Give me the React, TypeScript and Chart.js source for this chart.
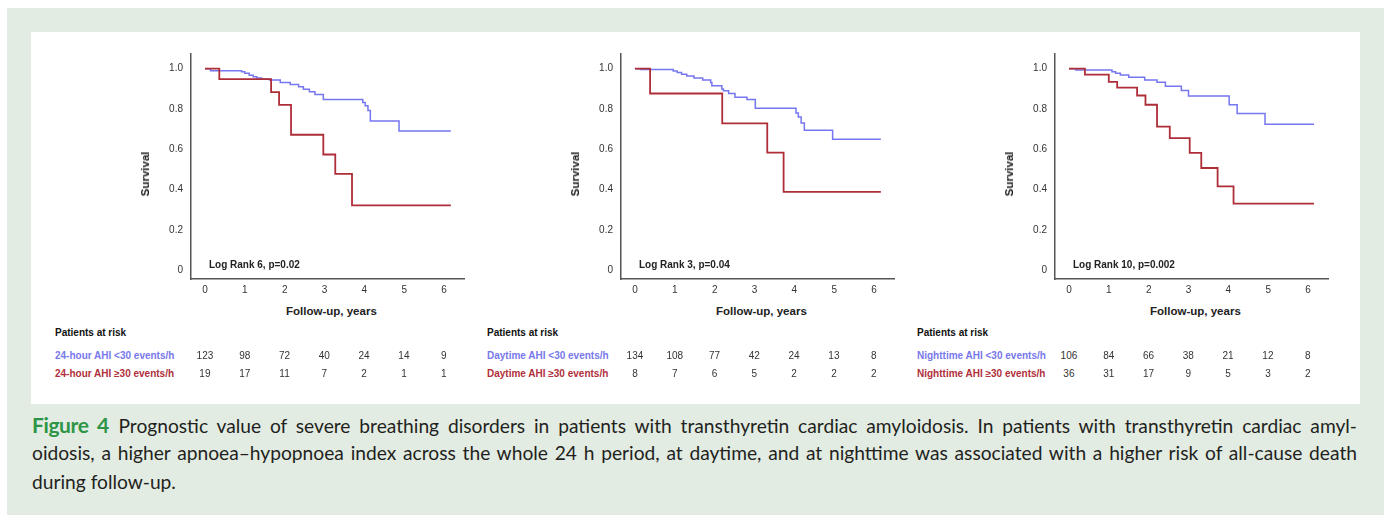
import React, { useEffect, useRef } from "react";
import { Chart, registerables } from "chart.js";

Chart.register(...registerables);

// ---------- shared axis data ----------
const X_TICKS = [0, 1, 2, 3, 4, 5, 6];
const Y_TICKS = [0, 0.2, 0.4, 0.6, 0.8, 1.0];
const Y_TICK_LABELS = ["0", "0.2", "0.4", "0.6", "0.8", "1.0"];
const X_TITLE = "Follow-up, years";
const Y_TITLE = "Survival";
const RISK_TITLE = "Patients at risk";

// ---------- panel 1: 24-hour AHI ----------
const h24LowLabel = "24-hour AHI <30 events/h";
const h24HighLabel = "24-hour AHI \u226530 events/h";
const h24LogRank = "Log Rank 6, p=0.02";
const h24LowTimes = [0, 0.14, 0.92, 1.0, 1.11, 1.21, 1.3, 1.42, 1.62, 1.89, 2.14, 2.35, 2.47, 2.62, 2.76, 2.97, 3.96, 4.02, 4.09, 4.15, 4.87, 6.17];
const h24LowSurv = [1.0, 0.99, 0.985, 0.977, 0.968, 0.96, 0.954, 0.949, 0.944, 0.932, 0.922, 0.911, 0.898, 0.886, 0.872, 0.847, 0.832, 0.816, 0.793, 0.74, 0.691, 0.691];
const h24HighTimes = [0, 0.36, 1.66, 1.86, 2.16, 2.97, 3.27, 3.69, 6.17];
const h24HighSurv = [1.0, 0.948, 0.884, 0.82, 0.672, 0.574, 0.478, 0.322, 0.322];
const h24LowRisk = [123, 98, 72, 40, 24, 14, 9];
const h24HighRisk = [19, 17, 11, 7, 2, 1, 1];

// ---------- panel 2: Daytime AHI ----------
const dayLowLabel = "Daytime AHI <30 events/h";
const dayHighLabel = "Daytime AHI \u226530 events/h";
const dayLogRank = "Log Rank 3, p=0.04";
const dayLowTimes = [0, 0.14, 0.96, 1.06, 1.17, 1.3, 1.48, 1.7, 1.9, 1.93, 2.18, 2.22, 2.35, 2.51, 2.81, 3.02, 4.04, 4.1, 4.17, 4.25, 4.96, 6.17];
const dayLowSurv = [1.0, 0.996, 0.988, 0.981, 0.973, 0.964, 0.954, 0.944, 0.931, 0.915, 0.899, 0.89, 0.877, 0.858, 0.847, 0.804, 0.78, 0.76, 0.73, 0.695, 0.65, 0.65];
const dayHighTimes = [0, 0.38, 2.19, 3.32, 3.73, 6.17];
const dayHighSurv = [1.0, 0.877, 0.729, 0.583, 0.389, 0.389];
const dayLowRisk = [134, 108, 77, 42, 24, 13, 8];
const dayHighRisk = [8, 7, 6, 5, 2, 2, 2];

// ---------- panel 3: Nighttime AHI ----------
const nightLowLabel = "Nighttime AHI <30 events/h";
const nightHighLabel = "Nighttime AHI \u226530 events/h";
const nightLogRank = "Log Rank 10, p=0.002";
const nightLowTimes = [0, 0.17, 1.08, 1.17, 1.29, 1.5, 1.9, 2.21, 2.42, 2.82, 3.0, 4.02, 4.22, 4.92, 6.15];
const nightLowSurv = [1.0, 0.993, 0.985, 0.978, 0.969, 0.957, 0.944, 0.933, 0.913, 0.892, 0.865, 0.821, 0.777, 0.724, 0.724];
const nightHighTimes = [0, 0.4, 1.0, 1.21, 1.71, 1.92, 2.21, 2.53, 3.03, 3.32, 3.73, 4.13, 6.15];
const nightHighSurv = [1.0, 0.971, 0.935, 0.906, 0.867, 0.821, 0.712, 0.655, 0.582, 0.507, 0.416, 0.33, 0.33];
const nightLowRisk = [106, 84, 66, 38, 21, 12, 8];
const nightHighRisk = [36, 31, 17, 9, 5, 3, 2];

// ---------- caption ----------
const CAPTION_LABEL = "Figure 4";
const CAPTION_LINE1 = "Prognostic value of severe breathing disorders in patients with transthyretin cardiac amyloidosis. In patients with transthyretin cardiac amyl-";
const CAPTION_LINE2 = "oidosis, a higher apnoea\u2013hypopnoea index across the whole 24 h period, at daytime, and at nighttime was associated with a higher risk of all-cause death";
const CAPTION_LINE3 = "during follow-up.";

// ---------- styling / layout ----------
const FONT = "'Liberation Sans', Arial, Helvetica, sans-serif";
const CAPTION_FONT = "Lato, 'Open Sans', sans-serif";
const BLUE = "#7676f0";
const RED = "#ae2e38";
const BLUE_TEXT = "#7878ea";
const RED_TEXT = "#b0303c";
const GREEN_BG = "#e2ece3";
const X_MIN = -0.35;
const X_MAX = 6.5;
const Y_MIN = -0.044;
const Y_MAX = 1.073;
const PX_PER_YEAR = 39.8;

const CANVAS_W = 330;
const CANVAS_H = 262;
const Y_SCALE_W = 45;
const PAD_TOP = 10;
const PAD_RIGHT = 12;
const X_SCALE_H = 23;
const CANVAS_TOP = 40;

type Panel = {
  axisX: number;
  tableLeft: number;
  lowTimes: number[];
  lowSurv: number[];
  highTimes: number[];
  highSurv: number[];
  lowRisk: number[];
  highRisk: number[];
  lowLabel: string;
  highLabel: string;
  logRank: string;
};

const PANELS: Panel[] = [
  { axisX: 191, tableLeft: 55, lowTimes: h24LowTimes, lowSurv: h24LowSurv, highTimes: h24HighTimes, highSurv: h24HighSurv, lowRisk: h24LowRisk, highRisk: h24HighRisk, lowLabel: h24LowLabel, highLabel: h24HighLabel, logRank: h24LogRank },
  { axisX: 621, tableLeft: 487, lowTimes: dayLowTimes, lowSurv: dayLowSurv, highTimes: dayHighTimes, highSurv: dayHighSurv, lowRisk: dayLowRisk, highRisk: dayHighRisk, lowLabel: dayLowLabel, highLabel: dayHighLabel, logRank: dayLogRank },
  { axisX: 1055, tableLeft: 917, lowTimes: nightLowTimes, lowSurv: nightLowSurv, highTimes: nightHighTimes, highSurv: nightHighSurv, lowRisk: nightLowRisk, highRisk: nightHighRisk, lowLabel: nightLowLabel, highLabel: nightHighLabel, logRank: nightLogRank },
];

const toPoints = (t: number[], s: number[]) => t.map((x, i) => ({ x, y: s[i] }));

function KmChart({ p }: { p: Panel }) {
  const ref = useRef<HTMLCanvasElement | null>(null);
  useEffect(() => {
    if (!ref.current) return;
    const chart = new Chart(ref.current, {
      type: "line",
      data: {
        datasets: [
          {
            data: toPoints(p.highTimes, p.highSurv),
            borderColor: RED,
            borderWidth: 1.8,
            pointRadius: 0,
            stepped: true,
            fill: false,
          },
          {
            data: toPoints(p.lowTimes, p.lowSurv),
            borderColor: BLUE,
            borderWidth: 1.5,
            pointRadius: 0,
            stepped: true,
            fill: false,
          },
        ],
      },
      options: {
        animation: false,
        responsive: false,
        maintainAspectRatio: false,
        events: [],
        layout: { padding: { top: PAD_TOP, right: PAD_RIGHT, left: 0, bottom: 0 } },
        plugins: { legend: { display: false }, tooltip: { enabled: false }, title: { display: false } },
        scales: {
          x: {
            type: "linear",
            min: X_MIN,
            max: X_MAX,
            grid: { display: false, drawTicks: false },
            border: { display: true, color: "#555", width: 1.5 },
            ticks: { padding: 5, color: "#333", font: { family: FONT, size: 10 } },
            afterBuildTicks: (s: any) => {
              s.ticks = X_TICKS.map((v) => ({ value: v }));
            },
            afterFit: (s: any) => {
              s.height = X_SCALE_H;
            },
          },
          y: {
            type: "linear",
            min: Y_MIN,
            max: Y_MAX,
            grid: { display: false, drawTicks: false },
            border: { display: true, color: "#555", width: 1.5 },
            ticks: {
              padding: 8,
              color: "#333",
              font: { family: FONT, size: 10 },
              callback: (v: any) => {
                const i = Y_TICKS.findIndex((t) => Math.abs(t - Number(v)) < 1e-6);
                return i >= 0 ? Y_TICK_LABELS[i] : "";
              },
            },
            afterBuildTicks: (s: any) => {
              s.ticks = Y_TICKS.map((v) => ({ value: v }));
            },
            afterFit: (s: any) => {
              s.width = Y_SCALE_W;
            },
          },
        },
      },
    } as any);
    return () => chart.destroy();
  }, [p]);

  const x0 = p.axisX + -X_MIN * PX_PER_YEAR;
  const txt: React.CSSProperties = { position: "absolute", fontFamily: FONT, whiteSpace: "nowrap", lineHeight: "12px" };

  return (
    <>
      <canvas
        ref={ref}
        width={CANVAS_W}
        height={CANVAS_H}
        style={{ position: "absolute", left: p.axisX - Y_SCALE_W, top: CANVAS_TOP, width: CANVAS_W, height: CANVAS_H }}
      />
      <div
        style={{
          ...txt,
          left: p.axisX - 46,
          top: 174,
          fontSize: 11.5,
          fontWeight: 700,
          color: "#222",
          transform: "translate(-50%, -50%) rotate(-90deg)",
        }}
      >
        {Y_TITLE}
      </div>
      <div style={{ ...txt, left: x0 + 126.5, top: 311, fontSize: 11.5, fontWeight: 700, color: "#222", transform: "translate(-50%, -50%)" }}>
        {X_TITLE}
      </div>
      <div style={{ ...txt, left: x0 + 4, top: 265, fontSize: 10, fontWeight: 700, color: "#222", transform: "translateY(-50%)" }}>
        {p.logRank}
      </div>
      <div style={{ ...txt, left: p.tableLeft, top: 333, fontSize: 10, fontWeight: 700, color: "#111", transform: "translateY(-50%)" }}>
        {RISK_TITLE}
      </div>
      <div style={{ ...txt, left: p.tableLeft, top: 356, fontSize: 10, fontWeight: 700, color: BLUE_TEXT, transform: "translateY(-50%)" }}>
        {p.lowLabel}
      </div>
      <div style={{ ...txt, left: p.tableLeft, top: 374, fontSize: 10, fontWeight: 700, color: RED_TEXT, transform: "translateY(-50%)" }}>
        {p.highLabel}
      </div>
      {X_TICKS.map((t, i) => (
        <React.Fragment key={t}>
          <div style={{ ...txt, left: x0 + t * PX_PER_YEAR, top: 356, fontSize: 10, color: "#333", transform: "translate(-50%, -50%)" }}>
            {p.lowRisk[i]}
          </div>
          <div style={{ ...txt, left: x0 + t * PX_PER_YEAR, top: 374, fontSize: 10, color: "#333", transform: "translate(-50%, -50%)" }}>
            {p.highRisk[i]}
          </div>
        </React.Fragment>
      ))}
    </>
  );
}

export default function App() {
  const capLine: React.CSSProperties = {
    position: "absolute",
    left: 32,
    width: 1325,
    fontFamily: CAPTION_FONT,
    fontSize: 19.2,
    lineHeight: "28px",
    color: "#231f20",
    textAlign: "justify",
    textAlignLast: "justify" as any,
    whiteSpace: "normal",
  };
  return (
    <div style={{ position: "fixed", left: 7, top: 8, right: 0, bottom: 0, background: GREEN_BG, overflow: "hidden" }}>
      <div style={{ position: "absolute", left: -7, top: -8, width: 1384, height: 515 }}>
        <div style={{ position: "absolute", left: 31, top: 32, width: 1329, height: 372, background: "#ffffff" }} />
        {PANELS.map((p, i) => (
          <KmChart key={i} p={p} />
        ))}
        <div style={{ ...capLine, top: 410.5 }}>
          <span style={{ color: "#2e9546", fontWeight: 700, fontSize: 21, letterSpacing: -0.4 }}>{CAPTION_LABEL}</span>
          {"\u2002" + CAPTION_LINE1}
        </div>
        <div style={{ ...capLine, top: 439 }}>{CAPTION_LINE2}</div>
        <div style={{ ...capLine, top: 467.5, textAlign: "left", textAlignLast: "left" as any }}>{CAPTION_LINE3}</div>
      </div>
    </div>
  );
}
